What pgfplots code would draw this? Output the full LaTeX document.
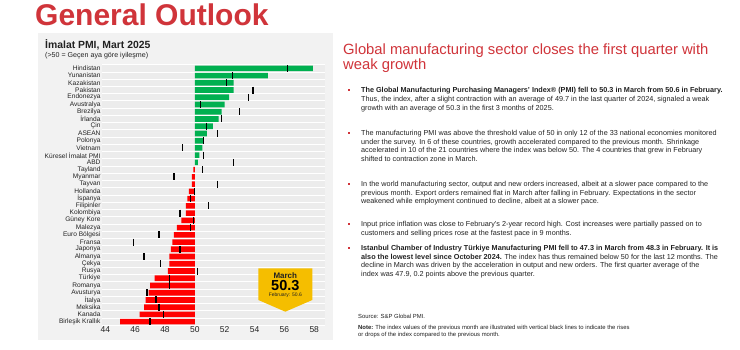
\documentclass[border=0pt]{standalone}
\usepackage{fontspec}
\setmainfont{Liberation Sans}
\usepackage{pgfplots}
\pgfplotsset{compat=1.18}
\definecolor{tred}{HTML}{D0343A}
\definecolor{panel}{HTML}{F2F2F2}
\definecolor{band}{HTML}{ECECEC}
\definecolor{bgreen}{HTML}{00B050}
\definecolor{bred}{HTML}{FF0000}
\definecolor{gold}{HTML}{F5BE00}
\definecolor{txt}{HTML}{222222}
\newcommand{\bodyf}{\fontsize{7.25}{8}\selectfont}
\newcommand{\tl}[2]{\node[anchor=base west, inner sep=0, text=txt, font=\bodyf] at (361,350-#1-2.5) {#2};}
\newcommand{\bul}[1]{\fill[tred] (347.8,350-#1-1.1) rectangle (350.0,350-#1+1.1);}
\begin{document}
\begin{tikzpicture}[x=1pt,y=1pt]
\path[use as bounding box, fill=white] (0,0) rectangle (740,350);
\fill[panel] (38,317) rectangle (333,10);
\node[anchor=base west, inner sep=0, text=tred, font=\bfseries\fontsize{30}{30}\selectfont] at (35,350-26) {General Outlook};
\node[anchor=base west, inner sep=0, text=txt, font=\bfseries\fontsize{10.4}{11}\selectfont] at (45,350-49) {İmalat PMI, Mart 2025};
\node[anchor=base west, inner sep=0, text=txt, font=\fontsize{7.1}{7.5}\selectfont] at (45,350-57.7) {(>50 = Geçen aya göre iyileşme)};
\begin{axis}[
  at={(101.7pt,24.7pt)}, anchor=south west,
  scale only axis, width=223.3pt, height=260.6pt,
  x coord trafo/.code={\pgfmathparse{#1-50}},
  x coord inv trafo/.code={\pgfmathparse{#1+50}},
  xmin=43.76, xmax=58.72,
  ymin=-0.5, ymax=35.5, y dir=reverse,
  axis line style={draw=none},
  axis background/.style={fill=band},
  major tick length=0pt, minor tick length=0pt,
  xtick={44,46,48,50,52,54,56,58},
  xticklabels={44,46,48,50,52,54,56,58},
  xticklabel style={font=\fontsize{8.5}{9}\selectfont, text=txt, inner sep=1.2pt},
  ytick={0,...,35},
  yticklabels={Hindistan,Yunanistan,Kazakistan,Pakistan,Endonezya,Avustralya,Brezilya,İrlanda,Çin,ASEAN,Polonya,Vietnam,Küresel İmalat PMI,ABD,Tayland,Myanmar,Tayvan,Hollanda,İspanya,Filipinler,Kolombiya,Güney Kore,Malezya,Euro Bölgesi,Fransa,Japonya,Almanya,Çekya,Rusya,Türkiye,Romanya,Avusturya,İtalya,Meksika,Kanada,Birleşik Krallık},
  yticklabel style={font=\fontsize{6.6}{7}\selectfont, text=txt, inner sep=1pt},
  minor ytick={-0.5,0.5,...,35.5},
  yminorgrids, minor grid style={white, line width=0.8pt},
  clip=false,
]
\addplot[xbar, bar width=5.6pt, bar shift=0pt, fill=bgreen, draw=none] coordinates {
(57.9,0) (54.9,1) (52.6,2) (52.6,3) (52.3,4) (52.0,5) (51.8,6) (51.6,7) (51.2,8) (50.8,9) (50.6,10) (50.5,11) (50.3,12) (50.2,13)};
\addplot[xbar, bar width=5.6pt, bar shift=0pt, fill=bred, draw=none] coordinates {
(49.9,14) (49.8,15) (49.8,16) (49.6,17) (49.5,18) (49.4,19) (49.4,20) (49.1,21) (48.8,22) (48.6,23) (48.5,24) (48.4,25) (48.3,26) (48.3,27) (48.2,28) (47.3,29) (47.0,30) (46.9,31) (46.7,32) (46.6,33) (46.3,34) (45.0,35)};
\addplot[only marks, mark=|, mark size=3.5pt, mark options={line width=1.2pt, draw=black}] coordinates {
(56.2,0) (52.5,1) (52.1,2) (53.9,3) (53.6,4) (50.4,5) (53.0,6) (51.8,7) (50.8,8) (51.5,9) (50.6,10) (49.2,11) (50.6,12) (52.6,13)
(50.5,14) (48.6,15) (51.5,16) (50.0,17) (49.7,18) (50.9,19) (49.0,20) (49.9,21) (49.7,22) (47.6,23) (45.9,24) (49.0,25) (46.6,26) (47.7,27) (50.2,28) (48.3,29) (48.3,30) (46.8,31) (47.4,32) (47.6,33) (47.9,34) (47.0,35)};
\end{axis}
% badge
\fill[gold] (258.3,350-268.3) -- (312.3,350-268.3) -- (312.3,350-300) -- (285.3,350-311.7) -- (258.3,350-300) -- cycle;
\node[inner sep=0, text=txt, font=\bfseries\fontsize{8}{8}\selectfont] at (285.3,350-276) {March};
\node[inner sep=0, text=black, font=\bfseries\fontsize{14.5}{15}\selectfont] at (285.3,350-286) {50.3};
\node[inner sep=0, text=txt, font=\fontsize{5}{5}\selectfont] at (285.3,350-295.3) {February: 50.6};
% right text
\node[anchor=base west, inner sep=0, text=tred, font=\fontsize{14.8}{15}\selectfont] at (343,350-55) {Global manufacturing sector closes the first quarter with};
\node[anchor=base west, inner sep=0, text=tred, font=\fontsize{14.8}{15}\selectfont] at (343,350-70) {weak growth};
\bul{90}
\tl{90}{\bfseries The Global Manufacturing Purchasing Managers' Index® (PMI) fell to 50.3 in March from 50.6 in February.}
\tl{99}{Thus, the index, after a slight contraction with an average of 49.7 in the last quarter of 2024, signaled a weak}
\tl{107.7}{growth with an average of 50.3 in the first 3 months of 2025.}
\bul{132.7}
\tl{132.7}{The manufacturing PMI was above the threshold value of 50 in only 12 of the 33 national economies monitored}
\tl{141.7}{under the survey. In 6 of these countries, growth accelerated compared to the previous month. Shrinkage}
\tl{150.3}{accelerated in 10 of the 21 countries where the index was below 50. The 4 countries that grew in February}
\tl{159}{shifted to contraction zone in March.}
\bul{184}
\tl{184}{In the world manufacturing sector, output and new orders increased, albeit at a slower pace compared to the}
\tl{192.7}{previous month. Export orders remained flat in March after falling in February. Expectations in the sector}
\tl{201.3}{weakened while employment continued to decline, albeit at a slower pace.}
\bul{224}
\tl{224}{Input price inflation was close to February's 2-year record high. Cost increases were partially passed on to}
\tl{232.7}{customers and selling prices rose at the fastest pace in 9 months.}
\bul{247.7}
\tl{247.7}{\bfseries Istanbul Chamber of Industry Türkiye Manufacturing PMI fell to 47.3 in March from 48.3 in February. It is}
\tl{256.7}{\textbf{also the lowest level since October 2024.} The index has thus remained below 50 for the last 12 months. The}
\tl{265.3}{decline in March was driven by the acceleration in output and new orders. The first quarter average of the}
\tl{274}{index was 47.9, 0.2 points above the previous quarter.}
\node[anchor=base west, inner sep=0, text=txt, font=\fontsize{5.9}{6}\selectfont] at (358,350-318.5) {Source: S\&P Global PMI.};
\node[anchor=base west, inner sep=0, text=txt, font=\fontsize{5.9}{6}\selectfont] at (358,350-329.5) {\textbf{Note:} The index values of the previous month are illustrated with vertical black lines to indicate the rises};
\node[anchor=base west, inner sep=0, text=txt, font=\fontsize{5.9}{6}\selectfont] at (358,350-337) {or drops of the index compared to the previous month.};
\end{tikzpicture}
\end{document}
